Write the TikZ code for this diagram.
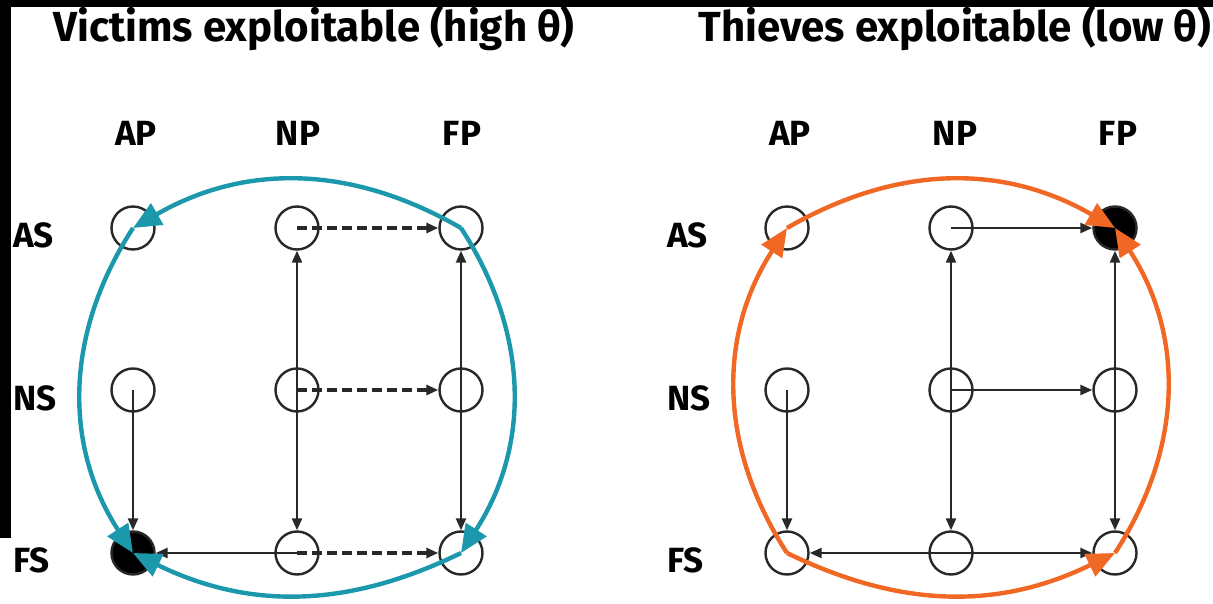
\documentclass[tikz,border=0pt]{standalone}
\usepackage{fontspec}
\setmainfont{Fira Sans}
\usetikzlibrary{arrows.meta}
\definecolor{cteal}{RGB}{28,152,172}
\definecolor{corange}{RGB}{240,104,36}
\definecolor{cline}{RGB}{40,40,40}
\begin{document}
\begin{tikzpicture}[x=1pt,y=1pt,
  st/.style={circle,draw=cline,line width=2.4pt,minimum size=43pt,inner sep=0pt},
  stf/.style={st,fill=black},
  ttl/.style={font=\bfseries\fontsize{42}{42}\selectfont,inner sep=0pt,anchor=base},
  lab/.style={font=\bfseries\fontsize{35}{35}\selectfont,inner sep=0pt},
  blk/.style={draw=cline,line width=2.4pt,-{Triangle[length=12pt,width=10pt]}},
  dsh/.style={blk,dash pattern=on 10pt off 5pt,line width=3.2pt},
  ring/.style={line width=4.4pt,-{Triangle[length=28pt,width=24pt]}}
]
\useasboundingbox (0,0) rectangle (1213,603);
\fill[white] (0,0) rectangle (1213,603);
\fill[black] (0,596) rectangle (1213,603);
\fill[black] (0,65) rectangle (11,603);

% titles
\node[ttl] (t1) at (314,561) {Victims exploitable (high θ)};
\node[ttl] (t2) at (955,561) {Thieves exploitable (low θ)};

% column labels
\node[lab,anchor=base] (lap) at (136,457) {AP};
\node[lab,anchor=base] (lnp) at (298,457) {NP};
\node[lab,anchor=base] (lfp) at (462,457) {FP};
\node[lab,anchor=base] (rap) at (790,457) {AP};
\node[lab,anchor=base] (rnp) at (955,457) {NP};
\node[lab,anchor=base] (rfp) at (1118,457) {FP};
% row labels
\node[lab,anchor=base west] (las) at (13,355) {AS};
\node[lab,anchor=base west] (lns) at (13,193) {NS};
\node[lab,anchor=base west] (lfs) at (13,31) {FS};
\node[lab,anchor=base west] (ras) at (667,355) {AS};
\node[lab,anchor=base west] (rns) at (667,193) {NS};
\node[lab,anchor=base west] (rfs) at (667,31) {FS};

% left states
\node[st] (LASAP) at (133,375) {};
\node[st] (LASNP) at (297,375) {};
\node[st] (LASFP) at (461,375) {};
\node[st] (LNSAP) at (133,213) {};
\node[st] (LNSNP) at (297,213) {};
\node[st] (LNSFP) at (461,213) {};
\node[stf] (LFSAP) at (133,50) {};
\node[st] (LFSNP) at (297,50) {};
\node[st] (LFSFP) at (461,50) {};
% right states
\node[st] (RASAP) at (787,375) {};
\node[st] (RASNP) at (951,375) {};
\node[stf] (RASFP) at (1115,375) {};
\node[st] (RNSAP) at (787,213) {};
\node[st] (RNSNP) at (951,213) {};
\node[st] (RNSFP) at (1115,213) {};
\node[st] (RFSAP) at (787,50) {};
\node[st] (RFSNP) at (951,50) {};
\node[st] (RFSFP) at (1115,50) {};

% left connectors
\draw[dsh] (LASNP.center) -- (LASFP);
\draw[dsh] (LNSNP.center) -- (LNSFP);
\draw[dsh] (LFSNP.center) -- (LFSFP);
\draw[blk] (LFSNP.center) -- (LFSAP);
\draw[blk] (LNSNP.center) -- (LASNP);
\draw[blk] (LNSNP.center) -- (LFSNP);
\draw[blk] (LNSFP.center) -- (LASFP);
\draw[blk] (LNSFP.center) -- (LFSFP);
\draw[blk] (LNSAP.center) -- (LFSAP);
% right connectors
\draw[blk] (RASNP.center) -- (RASFP);
\draw[blk] (RNSNP.center) -- (RNSFP);
\draw[blk] (RFSNP.center) -- (RFSFP);
\draw[blk] (RFSNP.center) -- (RFSAP);
\draw[blk] (RNSNP.center) -- (RASNP);
\draw[blk] (RNSNP.center) -- (RFSNP);
\draw[blk] (RNSFP.center) -- (RASFP);
\draw[blk] (RNSFP.center) -- (RFSFP);
\draw[blk] (RNSAP.center) -- (RFSAP);

% teal ring
\draw[ring,cteal] (LASFP.center) to[bend right=30] (LASAP.center);
\draw[ring,cteal] (LASAP.center) to[bend right=33] (LFSAP.center);
\draw[ring,cteal] (LASFP.center) to[bend left=33] (LFSFP.center);
\draw[ring,cteal] (LFSFP.center) to[bend left=26] (LFSAP.center);
% orange ring
\draw[ring,corange] (RFSAP.center) to[bend left=33] (RASAP.center);
\draw[ring,corange] (RASAP.center) to[bend left=30] (RASFP.center);
\draw[ring,corange] (RFSAP.center) to[bend right=26] (RFSFP.center);
\draw[ring,corange] (RFSFP.center) to[bend right=33] (RASFP.center);
\end{tikzpicture}
\end{document}
